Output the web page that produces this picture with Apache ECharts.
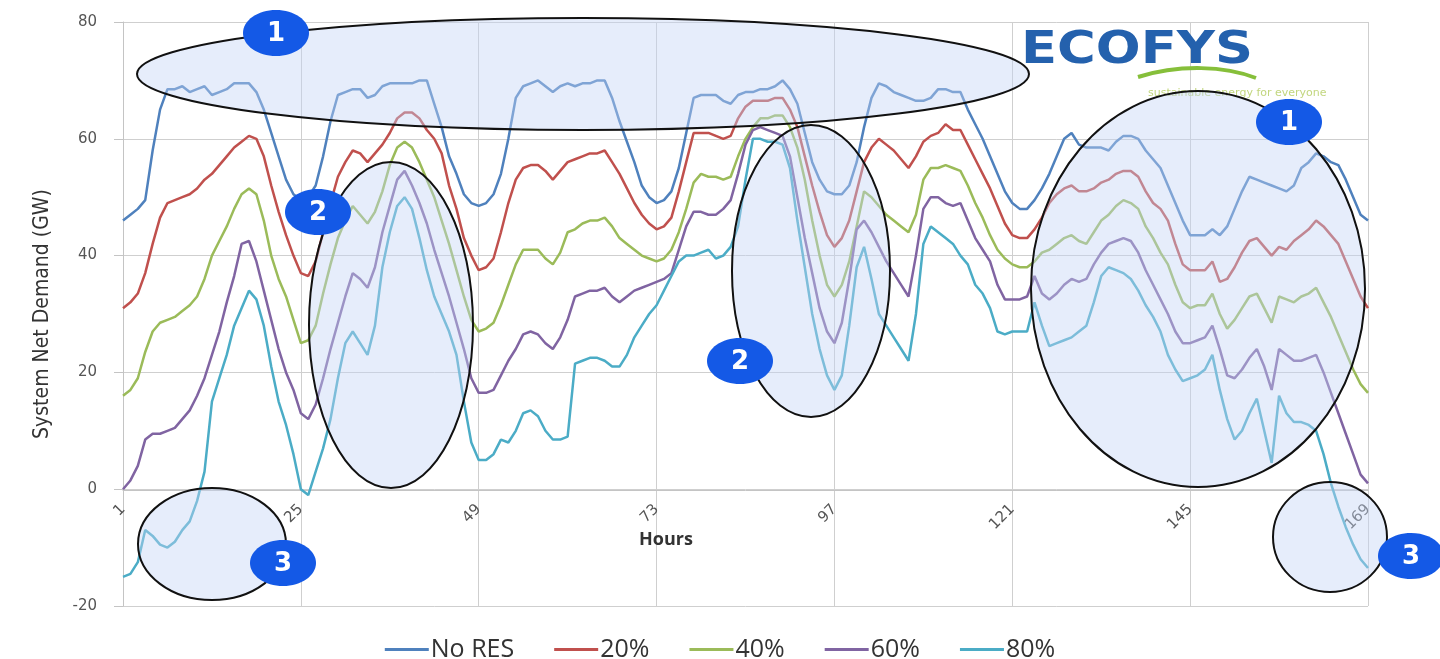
<!DOCTYPE html>
<html>
<head>
<meta charset="utf-8">
<title>System Net Demand</title>
<script src="https://cdn.jsdelivr.net/npm/echarts@6/dist/echarts.min.js"></script>
<style>
  html, body { margin: 0; padding: 0; background: #fff; }
  #chart { width: 1440px; height: 659px; }
</style>
</head>
<body>
<div id="chart"></div>
<script>
// hours 1..169
var hours = [];
for (var i = 1; i <= 169; i++) hours.push(String(i));

var yTicks = [-20, 0, 20, 40, 60, 80];
var seriesNames = ['No RES', '20%', '40%', '60%', '80%'];

// one row per day (24 h), last value is hour 169
var noRes = [
  46,47,48,49.5,58,65,68.5,68.5,69,68,68.5,69,67.5,68,68.5,69.5,69.5,69.5,68,65,61,57,53,50.5,
  49.5,50,52,57,63,67.5,68,68.5,68.5,67,67.5,69,69.5,69.5,69.5,69.5,70,70,66,62,57,54,50.5,49,
  48.5,49,50.5,54,60,67,69,69.5,70,69,68,69,69.5,69,69.5,69.5,70,70,67,63,59.5,56,52,50,
  49,49.5,51,55,61,67,67.5,67.5,67.5,66.5,66,67.5,68,68,68.5,68.5,69,70,68.5,66,61,56,53,51,
  50.5,50.5,52,56,62,67,69.5,69,68,67.5,67,66.5,66.5,67,68.5,68.5,68,68,65,62.5,60,57,54,51,
  49,48,48,49.5,51.5,54,57,60,61,59,58.5,58.5,58.5,58,59.5,60.5,60.5,60,58,56.5,55,52,49,46,
  43.5,43.5,43.5,44.5,43.5,45,48,51,53.5,53,52.5,52,51.5,51,52,55,56,57.5,57,56,55.5,53,50,47,
  46
];
var res20 = [
  31,32,33.5,37,42,46.5,49,49.5,50,50.5,51.5,53,54,55.5,57,58.5,59.5,60.5,60,57,52,47.5,43.5,40,
  37,36.5,39,44,49,53.5,56,58,57.5,56,57.5,59,61,63.5,64.5,64.5,63.5,61.5,60,57.5,52,48,43,40,
  37.5,38,39.5,44,49,53,55,55.5,55.5,54.5,53,54.5,56,56.5,57,57.5,57.5,58,56,54,51.5,49,47,45.5,
  44.5,45,46.5,51,56,61,61,61,60.5,60,60.5,63.5,65.5,66.5,66.5,66.5,67,67,65,62,57,52,47.5,43.5,
  41.5,43,46,51,56,58.5,60,59,58,56.5,55,57,59.5,60.5,61,62.5,61.5,61.5,59,56.5,54,51.5,48.5,45.5,
  43.5,43,43,44.5,46.5,49,50.5,51.5,52,51,51,51.5,52.5,53,54,54.5,54.5,53.5,51,49,48,46,42,38.5,
  37.5,37.5,37.5,39,35.5,36,38,40.5,42.5,43,41.5,40,41.5,41,42.5,43.5,44.5,46,45,43.5,42,39,36,33,
  31
];
var res40 = [
  16,17,19,23.5,27,28.5,29,29.5,30.5,31.5,33,36,40,42.5,45,48,50.5,51.5,50.5,46,40,36,33,29,
  25,25.5,28,33.5,38.5,43,46,48.5,47,45.5,47.5,51,55.5,58.5,59.5,58.5,56,53,50,46,42,37.5,33,29,
  27,27.5,28.5,31.5,35,38.5,41,41,41,39.5,38.5,40.5,44,44.5,45.5,46,46,46.5,45,43,42,41,40,39.5,
  39,39.5,41,44,48,52.5,54,53.5,53.5,53,53.5,57,60,62,63.5,63.5,64,64,62,58.5,53,46,40,35,
  33,35,39,45,51,50,48.5,47,46,45,44,47,53,55,55,55.5,55,54.5,52,49,46.5,43.5,41,39.5,
  38.5,38,38,39,40.5,41,42,43,43.5,42.5,42,44,46,47,48.5,49.5,49,48,45,43,40.5,38.5,35,32,
  31,31.5,31.5,33.5,30,27.5,29,31,33,33.5,31,28.5,33,32.5,32,33,33.5,34.5,32,29.5,26.5,23.5,20.5,18,
  16.5
];
var res60 = [
  0,1.5,4,8.5,9.5,9.5,10,10.5,12,13.5,16,19,23,27,32,36.5,42,42.5,39,34,29,24,20,17,
  13,12,14.5,19,24,28.5,33,37,36,34.5,38,44,48.5,53,54.5,52,49,45.5,41,37,33,28.5,24,19,
  16.5,16.5,17,19.5,22,24,26.5,27,26.5,25,24,26,29,33,33.5,34,34,34.5,33,32,33,34,34.5,35,
  35.5,36,37,41,45,47.5,47.5,47,47,48,49.5,54,59,61.5,62,61.5,61,60.5,57,50,43,37,31,27,
  25,28.5,36,44.5,46,44,41.5,39,37,35,33,40,48,50,50,49,48.5,49,46,43,41,39,35,32.5,
  32.5,32.5,33,36.5,33.5,32.5,33.5,35,36,35.5,36,38.5,40.5,42,42.5,43,42.5,40.5,37.5,35,32.5,30,27,25,
  25,25.5,26,28,24,19.5,19,20.5,22.5,24,21,17,24,23,22,22,22.5,23,20,16.5,13,9.5,6,2.5,
  1
];
var res80 = [
  -15,-14.5,-12.5,-7,-8,-9.5,-10,-9,-7,-5.5,-2,3,15,19,23,28,31,34,32.5,28,21,15,11,6,
  0,-1,3,7,12,19,25,27,25,23,28,38,44,48.5,50,48,43,37.5,33,30,27,23,15,8,
  5,5,6,8.5,8,10,13,13.5,12.5,10,8.5,8.5,9,21.5,22,22.5,22.5,22,21,21,23,26,28,30,
  31.5,34,36.5,39,40,40,40.5,41,39.5,40,41.5,45,53,60,60,59.5,59.5,59,55,46,38,30,24,19.5,
  17,19.5,28,38,41.5,36,30,28,26,24,22,30,42,45,44,43,42,40,38.5,35,33.5,31,27,26.5,
  27,27,27,32,28,24.5,25,25.5,26,27,28,32,36.5,38,37.5,37,36,34,31.5,29.5,27,23,20.5,18.5,
  19,19.5,20.5,23,17,12,8.5,10,13,15.5,10,4.5,16,13,11.5,11.5,11,10,6,1,-3,-6.5,-9.5,-12,
  -13.5
];

var colors = ['#4f81bd', '#c0504d', '#9bbb59', '#8064a2', '#4bacc6'];
var allData = [noRes, res20, res40, res60, res80];

var myChart = echarts.init(document.getElementById('chart'));

var series = seriesNames.map(function (name, k) {
    return {
        name: name,
        type: 'line',
        data: allData[k],
        symbol: 'none',
        smooth: false,
        lineStyle: { width: 2.5, color: colors[k] },
        itemStyle: { color: colors[k] }
    };
});

// highlight ellipses and numbered badges (pixel positions)
var shade = 'rgba(196,212,246,0.42)';
function ring(cx, cy, rx, ry) {
    return {
        type: 'ellipse',
        shape: { cx: cx, cy: cy, rx: rx, ry: ry },
        style: { fill: shade, stroke: '#111', lineWidth: 2 },
        z: 100
    };
}
function badge(cx, cy, num) {
    return {
        type: 'group',
        z: 110,
        children: [
            { type: 'ellipse', shape: { cx: cx, cy: cy, rx: 33, ry: 23 },
              style: { fill: '#1459e6' }, z: 110 },
            { type: 'text', x: cx, y: cy + 1, z: 111,
              style: { text: num, fill: '#fff', font: 'bold 26px "DejaVu Sans"',
                       textAlign: 'center', textVerticalAlign: 'middle' } }
        ]
    };
}

var option = {
    animation: false,
    color: colors,
    grid: { left: 123, right: 72, top: 22, bottom: 53 },
    legend: {
        data: seriesNames,
        left: 'center',
        top: 632,
        icon: 'rect',
        itemWidth: 44,
        itemHeight: 3,
        itemGap: 40,
        textStyle: { fontSize: 25, fontFamily: 'Open Sans', color: '#333', padding: [0, 0, 0, -3] }
    },
    xAxis: {
        type: 'category',
        data: hours,
        boundaryGap: false,
        // axis (and its labels) sits on the zero line, 116 px above the plot bottom
        offset: -116,
        axisLine: { onZero: false, lineStyle: { color: '#c4c4c4' } },
        axisTick: { show: false },
        axisLabel: {
            interval: 23,
            rotate: 45,
            margin: 17,
            color: '#555',
            fontSize: 15,
            fontFamily: 'DejaVu Sans'
        },
        splitLine: { show: true, interval: 23, lineStyle: { color: '#cfcfcf', width: 1 } }
    },
    yAxis: {
        type: 'value',
        min: yTicks[0],
        max: yTicks[yTicks.length - 1],
        interval: 20,
        name: 'System Net Demand (GW)',
        nameLocation: 'middle',
        nameGap: 70,
        nameTextStyle: { fontSize: 21, fontFamily: 'DejaVu Sans Condensed', color: '#333' },
        axisLine: { show: true, lineStyle: { color: '#c4c4c4' } },
        axisTick: { show: true, length: 9, lineStyle: { color: '#c4c4c4' } },
        axisLabel: { color: '#555', fontSize: 15, fontFamily: 'DejaVu Sans', margin: 26 },
        splitLine: { lineStyle: { color: '#cfcfcf', width: 1 } }
    },
    graphic: [
        // logo
        { type: 'text', x: 1021, y: 30, z: 90, scaleX: 1.2,
          style: { text: 'ECOFYS', fill: '#2461ad', font: 'bold 44px "DejaVu Sans"' } },
        { type: 'bezierCurve', z: 90,
          shape: { x1: 1138, y1: 77, cpx1: 1180, cpy1: 64, cpx2: 1225, cpy2: 66, x2: 1256, y2: 78 },
          style: { stroke: '#86bf3a', lineWidth: 4, fill: null } },
        { type: 'text', x: 1148, y: 88, z: 90,
          style: { text: 'sustainable energy for everyone', fill: '#c2d67e', font: '11px "DejaVu Sans"' } },
        { type: 'text', x: 666, y: 540, z: 90,
          style: { text: 'Hours', fill: '#333', font: 'bold 18px "Open Sans"',
                   textAlign: 'center', textVerticalAlign: 'middle' } },
        ring(583, 74, 446, 56),
        ring(391, 325, 82, 163),
        ring(811, 271, 79, 146),
        ring(1198, 289, 167, 198),
        ring(212, 544, 74, 56),
        ring(1330, 537, 57, 55),
        badge(276, 33, '1'),
        badge(1289, 122, '1'),
        badge(318, 212, '2'),
        badge(740, 361, '2'),
        badge(283, 563, '3'),
        badge(1411, 556, '3')
    ],
    series: series
};

myChart.setOption(option);
</script>
</body>
</html>
